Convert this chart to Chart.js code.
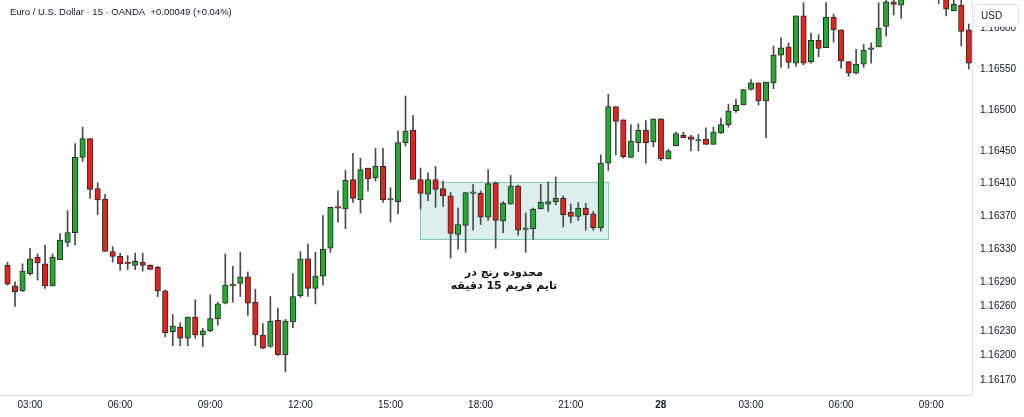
<!DOCTYPE html>
<html>
<head>
<meta charset="utf-8">
<script src="https://cdn.jsdelivr.net/npm/chart.js@4.4.1/dist/chart.umd.min.js"></script>
<style>
    html, body { margin: 0; padding: 0; background: #ffffff; }
    #wrap { width: 1024px; height: 417px; }
</style>
</head>
<body>
<div id="wrap"><canvas id="chart" width="1024" height="417"></canvas></div>
<script>
// EUR/USD 15 min candles, first one is 02:15 on the 27th
var startTime = "02:15";

var opens = [1.16310, 1.16285, 1.16279, 1.16300, 1.16320, 1.16312, 1.16285, 1.16317, 1.16338, 1.16350,
    1.16442, 1.16465, 1.16404, 1.16391, 1.16327, 1.16321, 1.16313, 1.16310, 1.16314, 1.16310,
    1.16308, 1.16279, 1.16229, 1.16235, 1.16221, 1.16247, 1.16225, 1.16230, 1.16245, 1.16264,
    1.16285, 1.16288, 1.16296, 1.16265, 1.16225, 1.16211, 1.16243, 1.16201, 1.16241, 1.16273,
    1.16318, 1.16282, 1.16297, 1.16331, 1.16381, 1.16379, 1.16415, 1.16390, 1.16429, 1.16417,
    1.16431, 1.16390, 1.16388, 1.16460, 1.16475, 1.16415, 1.16397, 1.16415, 1.16404, 1.16395,
    1.16348, 1.16359, 1.16398, 1.16398, 1.16369, 1.16411, 1.16364, 1.16385, 1.16407, 1.16354,
    1.16355, 1.16379, 1.16385, 1.16388, 1.16392, 1.16375, 1.16370, 1.16380, 1.16373, 1.16356,
    1.16435, 1.16504, 1.16488, 1.16442, 1.16460, 1.16475, 1.16461, 1.16489, 1.16440, 1.16456,
    1.16469, 1.16467, 1.16462, 1.16464, 1.16458, 1.16472, 1.16482, 1.16499, 1.16506, 1.16525,
    1.16533, 1.16511, 1.16533, 1.16567, 1.16577, 1.16557, 1.16615, 1.16559, 1.16585, 1.16576,
    1.16613, 1.16598, 1.16559, 1.16545, 1.16556, 1.16574, 1.16577, 1.16602, 1.16632, 1.16628,
    1.16640, 1.16660, 1.16650, 1.16668, 1.16655, 1.16643, 1.16621, 1.16628, 1.16598];

var highs = [1.16314, 1.16290, 1.16312, 1.16331, 1.16324, 1.16335, 1.16324, 1.16349, 1.16377, 1.16459,
    1.16479, 1.16465, 1.16411, 1.16397, 1.16333, 1.16325, 1.16322, 1.16325, 1.16325, 1.16311,
    1.16309, 1.16280, 1.16250, 1.16240, 1.16247, 1.16268, 1.16233, 1.16274, 1.16265, 1.16324,
    1.16309, 1.16326, 1.16302, 1.16281, 1.16239, 1.16272, 1.16258, 1.16244, 1.16300, 1.16327,
    1.16336, 1.16326, 1.16371, 1.16381, 1.16401, 1.16426, 1.16447, 1.16441, 1.16429, 1.16453,
    1.16453, 1.16405, 1.16474, 1.16517, 1.16493, 1.16429, 1.16423, 1.16431, 1.16413, 1.16399,
    1.16380, 1.16399, 1.16409, 1.16401, 1.16427, 1.16412, 1.16388, 1.16420, 1.16408, 1.16374,
    1.16380, 1.16409, 1.16412, 1.16418, 1.16395, 1.16385, 1.16387, 1.16386, 1.16376, 1.16445,
    1.16519, 1.16504, 1.16488, 1.16482, 1.16483, 1.16487, 1.16489, 1.16489, 1.16452, 1.16473,
    1.16473, 1.16469, 1.16470, 1.16478, 1.16479, 1.16490, 1.16507, 1.16513, 1.16525, 1.16537,
    1.16533, 1.16534, 1.16578, 1.16588, 1.16582, 1.16615, 1.16631, 1.16594, 1.16592, 1.16631,
    1.16617, 1.16598, 1.16559, 1.16574, 1.16580, 1.16582, 1.16631, 1.16646, 1.16644, 1.16652,
    1.16668, 1.16672, 1.16675, 1.16680, 1.16665, 1.16650, 1.16640, 1.16640, 1.16605];

var lows = [1.16286, 1.16260, 1.16278, 1.16298, 1.16292, 1.16282, 1.16285, 1.16317, 1.16333, 1.16335,
    1.16437, 1.16392, 1.16372, 1.16327, 1.16314, 1.16304, 1.16305, 1.16305, 1.16303, 1.16305,
    1.16272, 1.16223, 1.16212, 1.16212, 1.16212, 1.16221, 1.16211, 1.16229, 1.16237, 1.16263,
    1.16265, 1.16272, 1.16249, 1.16212, 1.16208, 1.16210, 1.16200, 1.16180, 1.16234, 1.16271,
    1.16272, 1.16263, 1.16286, 1.16326, 1.16363, 1.16355, 1.16387, 1.16374, 1.16401, 1.16413,
    1.16387, 1.16363, 1.16373, 1.16456, 1.16415, 1.16379, 1.16389, 1.16381, 1.16382, 1.16319,
    1.16330, 1.16326, 1.16353, 1.16360, 1.16365, 1.16331, 1.16350, 1.16385, 1.16347, 1.16326,
    1.16342, 1.16379, 1.16376, 1.16384, 1.16357, 1.16362, 1.16365, 1.16353, 1.16353, 1.16352,
    1.16426, 1.16445, 1.16441, 1.16442, 1.16449, 1.16435, 1.16455, 1.16438, 1.16440, 1.16456,
    1.16466, 1.16450, 1.16450, 1.16458, 1.16458, 1.16471, 1.16479, 1.16497, 1.16506, 1.16524,
    1.16506, 1.16466, 1.16526, 1.16552, 1.16551, 1.16553, 1.16555, 1.16557, 1.16565, 1.16576,
    1.16583, 1.16551, 1.16541, 1.16544, 1.16552, 1.16557, 1.16577, 1.16590, 1.16616, 1.16612,
    1.16637, 1.16645, 1.16642, 1.16650, 1.16630, 1.16615, 1.16621, 1.16578, 1.16550];

var closes = [1.16287, 1.16278, 1.16303, 1.16318, 1.16313, 1.16285, 1.16320, 1.16341, 1.16350, 1.16442,
    1.16465, 1.16403, 1.16390, 1.16327, 1.16321, 1.16312, 1.16312, 1.16315, 1.16310, 1.16305,
    1.16279, 1.16228, 1.16236, 1.16221, 1.16247, 1.16225, 1.16230, 1.16245, 1.16263, 1.16286,
    1.16287, 1.16296, 1.16264, 1.16225, 1.16209, 1.16242, 1.16201, 1.16242, 1.16272, 1.16318,
    1.16282, 1.16297, 1.16330, 1.16381, 1.16380, 1.16414, 1.16392, 1.16427, 1.16416, 1.16431,
    1.16390, 1.16391, 1.16460, 1.16474, 1.16415, 1.16398, 1.16415, 1.16403, 1.16395, 1.16349,
    1.16360, 1.16399, 1.16398, 1.16369, 1.16410, 1.16365, 1.16386, 1.16407, 1.16353, 1.16354,
    1.16379, 1.16387, 1.16388, 1.16392, 1.16372, 1.16370, 1.16380, 1.16372, 1.16356, 1.16435,
    1.16504, 1.16486, 1.16443, 1.16462, 1.16475, 1.16460, 1.16489, 1.16440, 1.16450, 1.16471,
    1.16466, 1.16464, 1.16462, 1.16458, 1.16473, 1.16482, 1.16499, 1.16506, 1.16525, 1.16533,
    1.16511, 1.16534, 1.16567, 1.16576, 1.16558, 1.16615, 1.16557, 1.16585, 1.16575, 1.16613,
    1.16598, 1.16560, 1.16545, 1.16556, 1.16573, 1.16576, 1.16600, 1.16632, 1.16629, 1.16640,
    1.16660, 1.16650, 1.16668, 1.16655, 1.16645, 1.16623, 1.16629, 1.16596, 1.16557];

// time axis labels (candle index -> text)
var timeTickIdx = [3, 15, 27, 39, 51, 63, 75, 87, 99, 111, 123];
var timeTickLabels = ["03:00", "06:00", "09:00", "12:00", "15:00", "18:00", "21:00", "28", "03:00", "06:00", "09:00"];

// price axis labels as shown on the right
var priceTicks = [1.16170, 1.16200, 1.16230, 1.16260, 1.16290, 1.16330, 1.16370, 1.16410, 1.16450, 1.16500, 1.16550, 1.16600];

// the marked range (candle index from/to, price low/high)
var rangeFrom = 54.9, rangeTo = 80.0;
var rangeLow = 1.16342, rangeHigh = 1.16412;
var rangeText = ["محدوده رنج در", "تایم فریم 15 دقیقه"];
var rangeTextIdx = 66.1;
var rangeTextPrices = [1.16301, 1.16285];

var headerText = "Euro / U.S. Dollar · 15 · OANDA  +0.00049 (+0.04%)";

// builds the time of every candle, only used for the category list
var times = opens.map(function (o, i) {
    var m = 2 * 60 + 15 + i * 15;
    m = m % (24 * 60);
    var h = Math.floor(m / 60), mm = m % 60;
    return (h < 10 ? "0" : "") + h + ":" + (mm < 10 ? "0" : "") + mm;
});

var upColor = "#27a833";
var downColor = "#e2231e";
var bodyColors = opens.map(function (o, i) { return closes[i] >= o ? upColor : downColor });

var overlay = {
    id: "overlay",
    beforeDraw: function (chart) {
        var ctx = chart.ctx;
        ctx.save();
        ctx.fillStyle = "#ffffff";
        ctx.fillRect(0, 0, chart.width, chart.height);
        ctx.restore();
    },
    beforeDatasetsDraw: function (chart) {
        // teal box round the range
        var ctx = chart.ctx, x = chart.scales.x, y = chart.scales.y;
        var x1 = x.getPixelForValue(rangeFrom), x2 = x.getPixelForValue(rangeTo);
        var y1 = y.getPixelForValue(rangeHigh), y2 = y.getPixelForValue(rangeLow);
        ctx.save();
        ctx.fillStyle = "rgba(160, 215, 207, 0.38)";
        ctx.strokeStyle = "rgba(120, 196, 186, 0.9)";
        ctx.lineWidth = 1;
        ctx.fillRect(x1, y1, x2 - x1, y2 - y1);
        ctx.strokeRect(Math.round(x1) + 0.5, Math.round(y1) + 0.5, Math.round(x2 - x1), Math.round(y2 - y1));
        ctx.restore();
    },
    afterDraw: function (chart) {
        var ctx = chart.ctx, x = chart.scales.x, y = chart.scales.y;
        ctx.save();
        // persian note under the box
        ctx.fillStyle = "#111111";
        ctx.font = "bold 11px 'DejaVu Sans'";
        ctx.textAlign = "center";
        ctx.textBaseline = "middle";
        ctx.direction = "rtl";
        rangeText.forEach(function (t, k) {
            ctx.fillText(t, x.getPixelForValue(rangeTextIdx), y.getPixelForValue(rangeTextPrices[k]));
        });
        ctx.direction = "ltr";

        // header
        ctx.textAlign = "left";
        ctx.font = "9.5px 'Liberation Sans'";
        ctx.fillStyle = "#131722";
        ctx.fillText(headerText, 10, 12);

        // currency box top right, hides most of the top price label
        ctx.fillStyle = "#ffffff";
        ctx.strokeStyle = "#e0e3eb";
        ctx.beginPath();
        ctx.roundRect(974.5, 4.5, 44, 22, 3);
        ctx.fill();
        ctx.stroke();
        ctx.font = "10px 'Liberation Sans'";
        ctx.fillStyle = "#131722";
        ctx.fillText("USD", 981, 16);
        ctx.restore();
    }
};

new Chart(document.getElementById("chart"), {
    type: "bar",
    data: {
        labels: times,
        datasets: [{
            label: "body",
            data: opens.map(function (o, i) { return { x: i, y: [o, closes[i]] } }),
            backgroundColor: bodyColors,
            borderColor: "#2a2a2a",
            borderWidth: 1,
            borderSkipped: false,
            barThickness: 5.5,
            minBarLength: 1.5,
            grouped: false
        }, {
            label: "wick",
            data: lows.map(function (l, i) { return { x: i, y: [l, highs[i]] } }),
            backgroundColor: "#4a4a4a",
            barThickness: 1,
            grouped: false
        }]
    },
    options: {
        responsive: false,
        animation: false,
        devicePixelRatio: 1,
        layout: { padding: 0, autoPadding: false },
        plugins: {
            legend: { display: false },
            tooltip: { enabled: false }
        },
        scales: {
            x: {
                type: "linear",
                min: -1,
                max: 128.43,
                offset: false,
                grid: { drawOnChartArea: false, drawTicks: false },
                border: { color: "#e0e3eb" },
                ticks: {
                    autoSkip: false,
                    maxRotation: 0,
                    padding: 4,
                    color: "#131722",
                    font: function (c) {
                        var lab = c.tick ? timeTickLabels[timeTickIdx.indexOf(c.tick.value)] : "";
                        return { family: "'Liberation Sans'", size: 10, weight: lab === "28" ? "bold" : "normal" };
                    },
                    callback: function (v) {
                        var k = timeTickIdx.indexOf(v);
                        return k >= 0 ? timeTickLabels[k] : "";
                    }
                },
                afterBuildTicks: function (s) {
                    s.ticks = timeTickIdx.map(function (v) { return { value: v } });
                },
                afterFit: function (s) {
                    s.height = 22;
                    s.paddingLeft = 0;
                    s.paddingRight = 0;
                }
            },
            y: {
                position: "right",
                min: 1.161517,
                max: 1.166343,
                grid: { drawOnChartArea: false, drawTicks: false },
                border: { color: "#e0e3eb" },
                ticks: {
                    padding: 8,
                    color: "#131722",
                    font: { family: "'Liberation Sans'", size: 10 },
                    callback: function (v) { return v.toFixed(5) }
                },
                afterBuildTicks: function (s) {
                    s.ticks = priceTicks.map(function (v) { return { value: v } });
                },
                afterFit: function (s) {
                    s.width = 52;
                    s.paddingTop = 0;
                    s.paddingBottom = 0;
                }
            }
        }
    },
    plugins: [overlay]
});
</script>
</body>
</html>
